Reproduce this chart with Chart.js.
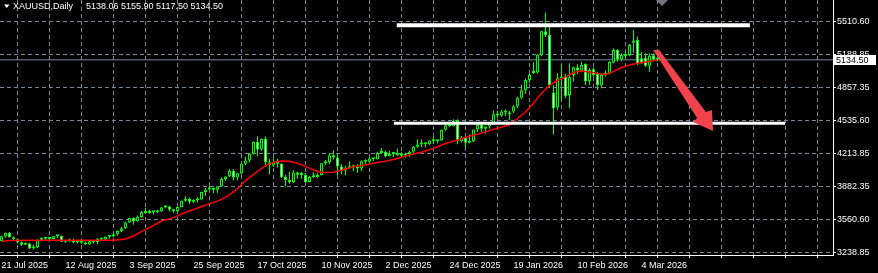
<!DOCTYPE html>
<html>
<head>
<meta charset="utf-8">
<title>XAUUSD Daily</title>
<script src="https://cdn.jsdelivr.net/npm/chart.js@4.4.1/dist/chart.umd.min.js"></script>
<style>
    html, body { margin: 0; padding: 0; background: #000; }
    #wrap { position: relative; width: 878px; height: 273px; }
</style>
</head>
<body>
<div id="wrap"><canvas id="chartGold"></canvas></div>
<script>
var symbolName = 'XAUUSD,Daily';

// one label every 16 bars, starting at bar 0
var dateLabels = ['21 Jul 2025', '12 Aug 2025', '3 Sep 2025', '25 Sep 2025', '17 Oct 2025',
    '10 Nov 2025', '2 Dec 2025', '24 Dec 2025', '19 Jan 2026', '10 Feb 2026', '4 Mar 2026'];

var priceTicks = [3238.85, 3560.60, 3882.35, 4213.85, 4535.60, 4857.35, 5188.85, 5510.60];

var opens = [
    3350, 3397, 3431, 3387, 3368, 3337, 3314, 3326, 3275, 3289,
    3363, 3373, 3380, 3369, 3396, 3398, 3342, 3348, 3356, 3335,
    3336, 3332, 3315, 3348, 3339, 3371, 3365, 3392, 3397, 3416,
    3448, 3476, 3533, 3576, 3545, 3586, 3636, 3625, 3641, 3634,
    3643, 3679, 3689, 3659, 3644, 3685, 3746, 3763, 3736, 3749,
    3759, 3833, 3858, 3865, 3856, 3886, 3961, 3985, 4042, 3976,
    4018, 4110, 4142, 4209, 4324, 4251, 4356, 4125, 4095, 4126,
    4112, 3981, 3952, 3930, 4025, 4002, 4001, 3932, 3981, 3977,
    4000, 4115, 4127, 4194, 4172, 4084, 4045, 4067, 4077, 4078,
    4065, 4135, 4131, 4163, 4156, 4218, 4230, 4186, 4206, 4209,
    4198, 4190, 4208, 4229, 4279, 4300, 4305, 4303, 4339, 4332,
    4339, 4445, 4490, 4480, 4532, 4332, 4370, 4319, 4330, 4448,
    4495, 4456, 4478, 4512, 4598, 4587, 4626, 4615, 4625, 4675,
    4762, 4835, 4937, 5005, 5010, 5185, 5415, 5380, 4811, 4667,
    4950, 4976, 4788, 4985, 5060, 5028, 5094, 4926, 5042, 4998,
    4887, 4990, 5000, 5106, 5232, 5140, 5190, 5182, 5304, 5330,
    5150, 5156, 5077, 5180, 5138.06
];
var highs = [
    3402, 3433, 3438, 3394, 3373, 3345, 3334, 3333, 3315, 3366,
    3385, 3390, 3392, 3400, 3409, 3404, 3358, 3375, 3375, 3345,
    3358, 3345, 3350, 3351, 3379, 3376, 3396, 3398, 3423, 3454,
    3490, 3540, 3578, 3582, 3600, 3646, 3674, 3658, 3645, 3655,
    3685, 3703, 3697, 3665, 3687, 3749, 3791, 3779, 3761, 3782,
    3834, 3872, 3895, 3875, 3889, 3977, 3991, 4059, 4059, 4022,
    4116, 4179, 4218, 4330, 4381, 4359, 4381, 4161, 4162, 4161,
    4115, 4002, 4030, 4046, 4033, 4030, 4020, 3990, 4027, 4019,
    4117, 4149, 4211, 4245, 4211, 4107, 4089, 4133, 4101, 4105,
    4142, 4156, 4175, 4168, 4229, 4265, 4241, 4242, 4218, 4259,
    4223, 4219, 4236, 4285, 4353, 4351, 4321, 4343, 4374, 4349,
    4449, 4497, 4526, 4550, 4550, 4385, 4380, 4402, 4449, 4500,
    4500, 4480, 4518, 4635, 4634, 4643, 4645, 4630, 4690, 4770,
    4888, 4950, 5000, 5110, 5190, 5420, 5598, 5460, 4887, 5002,
    5090, 4996, 5101, 5067, 5090, 5116, 5101, 5052, 5060, 5018,
    5002, 5030, 5123, 5248, 5240, 5200, 5220, 5291, 5429, 5363,
    5215, 5202, 5200, 5200, 5155.90
];
var lows = [
    3345, 3383, 3381, 3351, 3325, 3301, 3308, 3268, 3268, 3281,
    3345, 3356, 3358, 3366, 3380, 3341, 3331, 3343, 3331, 3324,
    3323, 3314, 3311, 3325, 3321, 3352, 3351, 3371, 3386, 3402,
    3436, 3468, 3528, 3511, 3540, 3578, 3621, 3619, 3612, 3626,
    3635, 3672, 3642, 3628, 3634, 3683, 3737, 3718, 3722, 3730,
    3756, 3793, 3848, 3820, 3823, 3884, 3941, 3980, 3945, 3947,
    4004, 4097, 4125, 4201, 4186, 4236, 4082, 4004, 4078, 4073,
    3971, 3886, 3915, 3921, 3964, 3962, 3930, 3929, 3974, 3968,
    3996, 4097, 4109, 4152, 3999, 4008, 3997, 4063, 4036, 4022,
    4040, 4099, 4125, 4137, 4153, 4211, 4172, 4182, 4174, 4189,
    4168, 4170, 4179, 4200, 4265, 4274, 4271, 4295, 4308, 4310,
    4338, 4436, 4471, 4477, 4303, 4320, 4274, 4311, 4326, 4423,
    4420, 4407, 4456, 4500, 4560, 4575, 4580, 4540, 4610, 4660,
    4750, 4800, 4910, 4995, 5000, 5170, 5360, 4860, 4400, 4640,
    4740, 4755, 4657, 4920, 4995, 5012, 4887, 4887, 4970, 4838,
    4854, 4970, 4990, 5101, 5116, 5120, 5150, 5170, 5205, 5084,
    5090, 5064, 5018, 5125, 5117.50
];
var closes = [
    3397, 3431, 3387, 3368, 3337, 3314, 3326, 3275, 3289, 3363,
    3373, 3380, 3369, 3396, 3398, 3342, 3348, 3356, 3335, 3336,
    3332, 3315, 3348, 3339, 3371, 3365, 3392, 3397, 3416, 3448,
    3476, 3533, 3576, 3545, 3586, 3636, 3625, 3641, 3634, 3643,
    3679, 3689, 3659, 3644, 3685, 3746, 3763, 3736, 3749, 3759,
    3833, 3858, 3865, 3856, 3886, 3961, 3985, 4042, 3976, 4018,
    4110, 4142, 4209, 4324, 4251, 4356, 4125, 4095, 4126, 4112,
    3981, 3952, 3930, 4025, 4002, 4001, 3932, 3981, 3977, 4000,
    4115, 4127, 4194, 4172, 4084, 4045, 4067, 4077, 4078, 4065,
    4135, 4131, 4163, 4156, 4218, 4230, 4186, 4206, 4209, 4198,
    4190, 4208, 4229, 4279, 4300, 4305, 4303, 4339, 4332, 4339,
    4445, 4490, 4480, 4532, 4332, 4370, 4319, 4330, 4448, 4495,
    4456, 4478, 4510, 4598, 4587, 4626, 4615, 4595, 4675, 4762,
    4835, 4935, 4985, 5012, 5185, 5415, 5380, 4885, 4657, 4953,
    4960, 4779, 4963, 5061, 5030, 5084, 4920, 5035, 4985, 4887,
    4985, 5010, 5116, 5232, 5140, 5182, 5170, 5281, 5326, 5091,
    5100, 5077, 5175, 5138, 5134.50
];

// moving average at these bars
var maBars = [0, 2, 8, 16, 24, 28, 31, 33, 35, 37, 40, 43, 46, 50, 53, 55, 57, 59, 61, 64,
    66, 68, 70, 72, 74, 76, 78, 80, 83, 85, 88, 91, 93, 96, 99, 102, 105, 108, 111, 114,
    116, 119, 122, 125, 127, 129, 131, 133, 135, 137, 139, 141, 143, 145, 147, 149, 151, 153, 155, 157,
    159, 161, 164];
var maValues = [3345, 3356, 3357, 3357, 3357, 3358, 3370, 3399, 3442, 3481, 3547, 3580, 3630, 3690, 3728, 3760, 3805, 3865, 3945, 4035,
    4092, 4125, 4137, 4136, 4115, 4085, 4050, 4025, 4027, 4047, 4082, 4099, 4116, 4135, 4163, 4200, 4225, 4262, 4311, 4345,
    4372, 4401, 4437, 4473, 4493, 4557, 4621, 4707, 4803, 4882, 4931, 4966, 5010, 5025, 5015, 5000, 4990, 5018, 5059, 5084,
    5101, 5114, 5133];

// drawn objects (bar index, price)
var topLine = { from: 98.8, to: 187.1, price: 5475 };
var bottomLine = { from: 98.1, to: 195.9, price: 4509.5 };
var arrowBars = [162.9, 164.4, 176.1, 177.6, 177.9, 172.9, 173.9];
var arrowPrices = [5231.4, 5231.4, 4620.7, 4640.4, 4433.5, 4522.2, 4561.6];

var xMin = -0.375;
var xMax = 207.875;

(function () {
    Chart.defaults.font.family = '"Liberation Sans", Arial, sans-serif';
    Chart.defaults.font.size = 9;
    Chart.defaults.color = '#ffffff';

    var last = closes.length - 1;

    function fmt(v) {
        return Number(v).toFixed(2);
    }

    function buildCandles() {
        var wicks = [], bodies = [], fills = [];
        for (var i = 0; i < closes.length; i++) {
            wicks.push({ x: i, y: [lows[i], highs[i]] });
            bodies.push({ x: i, y: [Math.min(opens[i], closes[i]), Math.max(opens[i], closes[i])] });
            fills.push(closes[i] >= opens[i] ? '#000000' : '#ffffff');
        }
        return { wicks: wicks, bodies: bodies, fills: fills };
    }

    var overlay = {
        id: 'overlay',
        afterDraw: function (chart) {
            var c = chart.ctx;
            c.save();
            c.fillStyle = '#ffffff';
            c.beginPath();
            c.moveTo(4, 4.5);
            c.lineTo(9.5, 4.5);
            c.lineTo(6.75, 8);
            c.closePath();
            c.fill();

            c.font = '9px "Liberation Sans", Arial, sans-serif';
            c.textBaseline = 'middle';
            c.fillText(symbolName, 13, 7);
            c.fillText([opens[last], highs[last], lows[last], closes[last]].map(fmt).join(' '), 86, 7);

            c.fillStyle = '#6f7780';
            c.beginPath();
            c.moveTo(656, 0);
            c.lineTo(668, 0);
            c.lineTo(662, 6);
            c.closePath();
            c.fill();

            var y = Math.round(chart.scales.y.getPixelForValue(closes[last]));
            c.fillStyle = '#ffffff';
            c.fillRect(834, y - 5, 42, 10);
            c.fillStyle = '#000000';
            c.fillText(fmt(closes[last]), 836, y + 0.5);
            c.restore();
        }
    };

    var candles = buildCandles();
    var ma = maBars.map(function (b, k) { return { x: b, y: maValues[k] }; });
    var arrow = arrowBars.map(function (b, k) { return { x: b, y: arrowPrices[k] }; });

    var gridOpts = { color: '#778899', lineWidth: 1, tickLength: 3, tickColor: '#ffffff' };
    var borderOpts = { color: '#ffffff', width: 1, dash: [4, 3] };

    new Chart(document.getElementById('chartGold'), {
        type: 'bar',
        data: {
            datasets: [
                {
                    type: 'line', label: 'Bid',
                    data: [{ x: xMin, y: closes[last] }, { x: xMax, y: closes[last] }],
                    borderColor: '#778899', borderWidth: 1, pointRadius: 0, order: 6
                },
                {
                    label: 'Wicks', data: candles.wicks, backgroundColor: '#00ff00',
                    barThickness: 1, grouped: false, inflateAmount: 0, order: 5
                },
                {
                    label: 'Bodies', data: candles.bodies, backgroundColor: candles.fills,
                    borderColor: '#00ff00', borderWidth: 1, borderSkipped: false,
                    barThickness: 3, minBarLength: 2, grouped: false, inflateAmount: 0, order: 4
                },
                {
                    type: 'line', label: 'MA', data: ma, borderColor: '#ff0000',
                    borderWidth: 1.5, pointRadius: 0, tension: 0, order: 3
                },
                {
                    type: 'line', label: 'Top',
                    data: [{ x: topLine.from, y: topLine.price }, { x: topLine.to, y: topLine.price }],
                    borderColor: '#ffffff', borderWidth: 4, borderCapStyle: 'butt', pointRadius: 0, order: 1
                },
                {
                    type: 'line', label: 'Bottom',
                    data: [{ x: bottomLine.from, y: bottomLine.price }, { x: bottomLine.to, y: bottomLine.price }],
                    borderColor: '#ffffff', borderWidth: 3, borderCapStyle: 'butt', pointRadius: 0, order: 1
                },
                {
                    type: 'line', label: 'Arrow', data: arrow, fill: 'shape',
                    backgroundColor: '#f2424c', borderColor: 'rgba(0,0,0,0)', borderWidth: 0,
                    pointRadius: 0, tension: 0, order: 0
                }
            ]
        },
        options: {
            animation: false,
            responsive: true,
            maintainAspectRatio: false,
            events: [],
            layout: { padding: 0 },
            plugins: {
                legend: { display: false },
                tooltip: { enabled: false }
            },
            scales: {
                x: {
                    type: 'linear', min: xMin, max: xMax, offset: false,
                    afterBuildTicks: function (s) {
                        var t = [];
                        for (var v = 0; v <= 200; v += 8) t.push({ value: v });
                        s.ticks = t;
                    },
                    afterFit: function (s) {
                        s.height = 18;
                        s.paddingLeft = 0;
                        s.paddingRight = 0;
                    },
                    ticks: {
                        autoSkip: false, maxRotation: 0, minRotation: 0, align: 'start',
                        color: '#ffffff', padding: 2,
                        callback: function (v) {
                            return (v % 16 === 0 && dateLabels[v / 16]) ? dateLabels[v / 16] : '';
                        }
                    },
                    grid: gridOpts,
                    border: borderOpts
                },
                y: {
                    type: 'linear', position: 'right', min: 3212, max: 5724,
                    afterBuildTicks: function (s) {
                        s.ticks = priceTicks.map(function (v) { return { value: v }; });
                    },
                    afterFit: function (s) {
                        s.width = 45;
                        s.paddingTop = 0;
                        s.paddingBottom = 0;
                    },
                    ticks: {
                        color: '#ffffff', padding: 1,
                        callback: function (v) { return fmt(v); }
                    },
                    grid: gridOpts,
                    border: borderOpts
                }
            }
        },
        plugins: [overlay]
    });
})();
</script>
</body>
</html>
